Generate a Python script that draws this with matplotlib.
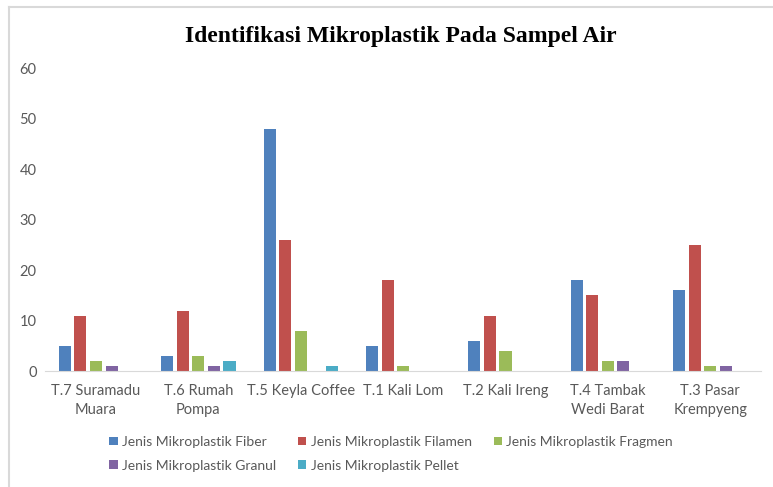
import numpy as np
import matplotlib
matplotlib.use("Agg")
import matplotlib.pyplot as plt
from matplotlib.lines import Line2D

# data
lokasi = ["T.7 Suramadu\nMuara", "T.6 Rumah\nPompa", "T.5 Keyla Coffee", "T.1 Kali Lom",
          "T.2 Kali Ireng", "T.4 Tambak\nWedi Barat", "T.3 Pasar\nKrempyeng"]
fiber = [5, 3, 48, 5, 6, 18, 16]
filamen = [11, 12, 26, 18, 11, 15, 25]
fragmen = [2, 3, 8, 1, 4, 2, 1]
granul = [1, 1, 0, 0, 0, 2, 1]
pellet = [0, 2, 1, 0, 0, 0, 0]

seri = [
    ("Jenis Mikroplastik Fiber", fiber, "#4F81BD"),
    ("Jenis Mikroplastik Filamen", filamen, "#C0504D"),
    ("Jenis Mikroplastik Fragmen", fragmen, "#9BBB59"),
    ("Jenis Mikroplastik Granul", granul, "#8064A2"),
    ("Jenis Mikroplastik Pellet", pellet, "#4BACC6"),
]

plt.rcParams["font.family"] = ["Lato", "DejaVu Sans"]
abu = "#595959"

fig = plt.figure(figsize=(7.73, 4.87), dpi=100)
ax = fig.add_axes([0.058, 0.238, 0.927, 0.622])

x = np.arange(len(lokasi))
lebar = 0.118
langkah = 0.152
bars = []
for i, (nama, nilai, warna) in enumerate(seri):
    b = ax.bar(x + (i - 2) * langkah, nilai, lebar, color=warna, label=nama)
    bars.append(b)

ax.set_xlim(-0.5, len(lokasi) - 0.5)
ax.set_ylim(0, 60)
ax.set_yticks(range(0, 61, 10))
ax.set_xticks(x)
ax.set_xticklabels(lokasi, fontsize=10.5, color=abu, linespacing=1.5)
ax.tick_params(axis="y", labelsize=10.5, labelcolor=abu, length=0, pad=6)
ax.tick_params(axis="x", length=0, pad=9)
for s in ["top", "right", "left"]:
    ax.spines[s].set_visible(False)
ax.spines["bottom"].set_color("#D9D9D9")

fig.text(0.518, 0.925, "Identifikasi Mikroplastik Pada Sampel Air",
         ha="center", va="center", fontsize=17, fontweight="bold",
         family=["Liberation Serif", "DejaVu Serif"])

# legend row by row like Excel
urut = [0, 3, 1, 4, 2]
h = [bars[k] for k in urut]
l = [seri[k][0] for k in urut]
leg = fig.legend(h, l, loc="center", bbox_to_anchor=(0.506, 0.068), ncol=3, frameon=False,
                 fontsize=10, handlelength=0.6, handleheight=0.6, handletextpad=0.3,
                 columnspacing=1.6, labelspacing=0.85)
for t in leg.get_texts():
    t.set_color(abu)

# chart area border (top and left edges only visible)
fig.add_artist(Line2D([0.011, 1.0], [0.986, 0.986], transform=fig.transFigure, color="#D9D9D9", lw=1.5))
fig.add_artist(Line2D([0.011, 0.011], [0.0, 0.986], transform=fig.transFigure, color="#D9D9D9", lw=1.5))

fig.savefig("out.png", dpi=100)
